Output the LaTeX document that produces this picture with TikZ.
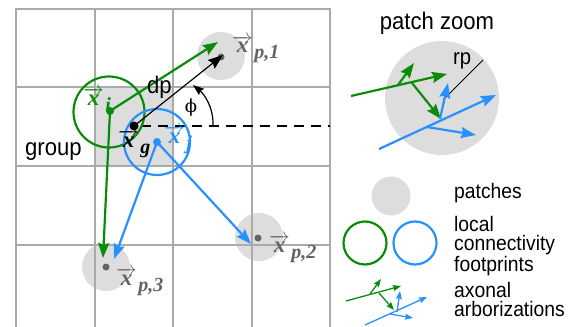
\documentclass[tikz,border=0pt]{standalone}
\usepackage{fontspec}
\setmainfont{Liberation Serif}
\newfontfamily\sansf[FakeStretch=0.92]{Liberation Sans}
\newfontfamily\phifont{DejaVu Serif}
\usetikzlibrary{arrows.meta}
\definecolor{grn}{RGB}{10,140,10}
\definecolor{blu}{RGB}{40,145,255}
\definecolor{patchgray}{RGB}{221,221,221}
\definecolor{gridgray}{RGB}{170,170,170}
\definecolor{dotgray}{RGB}{100,100,100}
\newcommand{\vx}{$\overrightarrow{\mbox{\fontsize{23}{23}\selectfont x}}$}
\newcommand{\vlab}[1]{\vx\kern1.5pt\raisebox{-6pt}{#1}}
\begin{document}
\begin{tikzpicture}[x=1pt,y=-1pt,
  gridline/.style={draw=gridgray,line width=2pt,line cap=rect},
  patchnode/.style={circle,fill=patchgray,inner sep=0pt,minimum size=48pt},
  footprint/.style={circle,draw,line width=2.2pt,inner sep=0pt},
  bigarrow/.style={line width=2.2pt,-{Stealth[length=15pt,width=11pt,inset=2pt]}},
  smallarrow/.style={line width=1.3pt,-{Stealth[length=8pt,width=6pt,inset=1pt]}},
  xlab/.style={font=\fontsize{20}{20}\selectfont\bfseries\itshape,inner sep=0pt,anchor=base west},
  mainlab/.style={font=\sansf\fontsize{24}{24}\selectfont,inner sep=0pt},
  leglab/.style={font=\sansf\fontsize{21}{18.5}\selectfont,inner sep=0pt,anchor=base west,align=left}]
\useasboundingbox (0,0) rectangle (577,326);
% group cell
\fill[patchgray] (94.5,87.5) rectangle (173,166);
% patches
\coordinate (p1) at (221,57);
\coordinate (p2) at (258,238);
\coordinate (p3) at (106,267);
\node[patchnode] (pc1) at (221,56) {};
\node[patchnode] (pc2) at (259,237) {};
\node[patchnode] (pc3) at (106,267) {};
% grid
\foreach \x in {16,94.5,173,251.5,330} \draw[gridline] (\x,9) -- (\x,330);
\foreach \y in {9,87.5,166,244.5} \draw[gridline] (16,\y) -- (330,\y);
% patch centres
\foreach \p in {p1,p2,p3} \fill[dotgray] (\p) circle[radius=3.5pt];
% points
\coordinate (xg) at (134,126);
\coordinate (xi) at (110,111);
\coordinate (xj) at (157,142);
\coordinate (dend) at (330,126);
\draw[line width=1.2pt,dash pattern=on 10pt off 7pt,shorten <=7pt] (xg) -- (dend);
% footprints
\node[footprint,draw=grn,minimum size=71pt] (fi) at (109,112) {};
\node[footprint,draw=blu,minimum size=66pt] (fj) at (157,142) {};
% arrow targets
\coordinate (ti1) at (218,42);
\coordinate (tg1) at (223,55);
\coordinate (ti3) at (103,258);
\coordinate (tj3) at (114,259);
\coordinate (tj2) at (251,244);
\draw[bigarrow,grn] (xi) -- (ti1);
\draw[bigarrow,grn] (xi) -- (ti3);
\draw[bigarrow,blu] (xj) -- (tj3);
\draw[bigarrow,blu] (xj) -- (tj2);
\draw[line width=1.2pt,-{Stealth[length=15pt,width=11pt,inset=2pt]}] (xg) -- (tg1);
% angle
\coordinate (arcs) at (213,125);
\coordinate (arce) at (193,85);
\draw[line width=1.2pt,-{Stealth[length=11pt,width=8pt,inset=1.5pt]}] (arcs) .. controls (213.5,107) and (204,94) .. (arce);
% dots
\fill[grn] (xi) circle[radius=4pt];
\fill[blu] (xj) circle[radius=4pt];
\fill[black] (xg) circle[radius=4.5pt];
% labels
\node[xlab,text=grn] (lxi) at (83,105) {\vlab{i}};
\node[xlab,text=black] (lxg) at (118,147) {\vlab{g}};
\node[xlab,text=blu] (lxj) at (164,143) {\vlab{j}};
\node[xlab,text=dotgray] (lp1) at (232,53) {\vlab{p,1}};
\node[xlab,text=dotgray] (lp2) at (269,252) {\vlab{p,2}};
\node[xlab,text=dotgray] (lp3) at (116,285) {\vlab{p,3}};
\node[mainlab,anchor=base west] (dp) at (147,93) {dp};
\node[mainlab,anchor=base west] (grp) at (25,155) {group};
\node[font=\phifont\fontsize{18}{18}\selectfont,inner sep=0pt] (phi) at (191,108) {ϕ};
% patch zoom
\node[mainlab,anchor=base] (pz) at (437,30) {patch zoom};
\node[patchnode,minimum size=114pt] (zc) at (442,98) {};
\coordinate (rp0) at (444,99);
\coordinate (rp1) at (483,60);
\draw[line width=1pt] (rp0) -- (rp1);
\node[mainlab,font=\sansf\fontsize{22}{22}\selectfont,anchor=base west] (rp) at (453,65) {rp};
\coordinate (gm0) at (351,96);  \coordinate (gm1) at (447,74);
\coordinate (gu0) at (398,85);  \coordinate (gu1) at (414,63);
\coordinate (gd0) at (412,83);  \coordinate (gd1) at (441,119);
\coordinate (bm0) at (379,149); \coordinate (bm1) at (496,95);
\coordinate (bu0) at (440,119); \coordinate (bu1) at (448,83);
\coordinate (br0) at (427,127); \coordinate (br1) at (476,135);
\draw[bigarrow,grn] (gm0) -- (gm1);
\draw[bigarrow,grn] (gu0) -- (gu1);
\draw[bigarrow,grn] (gd0) -- (gd1);
\draw[bigarrow,blu] (bm0) -- (bm1);
\draw[bigarrow,blu] (bu0) -- (bu1);
\draw[bigarrow,blu] (br0) -- (br1);
% legend
\node[patchnode,minimum size=39pt] (lpatch) at (391,196) {};
\node[footprint,draw=grn,minimum size=43pt] (lgi) at (365,243) {};
\node[footprint,draw=blu,minimum size=43pt] (lgj) at (415,243) {};
\node[leglab] (tpatch) at (454,198) {patches};
\node[leglab] (tfoot) at (454,271) {local\\connectivity\\footprints};
\node[leglab] (taxon) at (454,316) {axonal\\arborizations};
\coordinate (lgm0) at (346,301); \coordinate (lgm1) at (401,286);
\coordinate (lgu0) at (370,294); \coordinate (lgu1) at (381,279);
\coordinate (lgd0) at (379,293); \coordinate (lgd1) at (394,310);
\coordinate (lbm0) at (365,325); \coordinate (lbm1) at (427,297);
\coordinate (lbu0) at (397,312); \coordinate (lbu1) at (400,291);
\coordinate (lbr0) at (390,314); \coordinate (lbr1) at (413,318);
\draw[smallarrow,grn] (lgm0) -- (lgm1);
\draw[smallarrow,grn] (lgu0) -- (lgu1);
\draw[smallarrow,grn] (lgd0) -- (lgd1);
\draw[smallarrow,blu] (lbm0) -- (lbm1);
\draw[smallarrow,blu] (lbu0) -- (lbu1);
\draw[smallarrow,blu] (lbr0) -- (lbr1);
\end{tikzpicture}
\end{document}
